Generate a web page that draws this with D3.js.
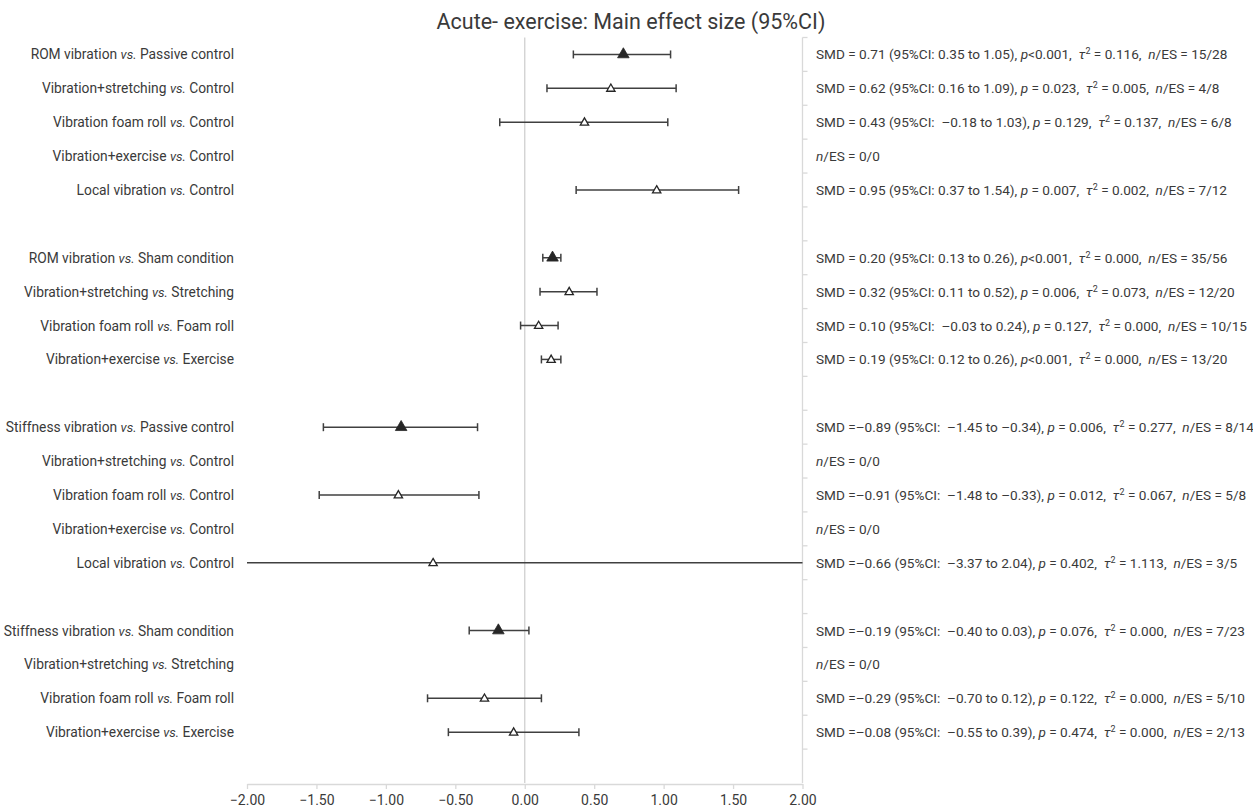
<!DOCTYPE html>
<html>
<head>
<meta charset="utf-8">
<script src="https://cdn.jsdelivr.net/npm/d3@7/dist/d3.min.js"></script>
<style>
  html, body { margin: 0; padding: 0; background: #fff; }
  svg { display: block; }
  text { font-family: Roboto, "Noto Sans", sans-serif; fill: #3a3a3a; white-space: pre; }
</style>
</head>
<body>
<svg id="chart" width="1253" height="809"></svg>
<script>
// Comparisons, in display order (four blocks, a blank row after each)
const groupSizes = [5, 4, 5, 4];
const interventions = [
  "ROM vibration", "Vibration+stretching", "Vibration foam roll", "Vibration+exercise", "Local vibration",
  "ROM vibration", "Vibration+stretching", "Vibration foam roll", "Vibration+exercise",
  "Stiffness vibration", "Vibration+stretching", "Vibration foam roll", "Vibration+exercise", "Local vibration",
  "Stiffness vibration", "Vibration+stretching", "Vibration foam roll", "Vibration+exercise"
];
const comparators = [
  "Passive control", "Control", "Control", "Control", "Control",
  "Sham condition", "Stretching", "Foam roll", "Exercise",
  "Passive control", "Control", "Control", "Control", "Control",
  "Sham condition", "Stretching", "Foam roll", "Exercise"
];
// Pooled (main) estimates are drawn as filled triangles
const pooled = [1,0,0,0,0, 1,0,0,0, 1,0,0,0,0, 1,0,0,0];
// Standardised mean differences with 95% CI (null = no effect sizes)
const smd   = [0.71, 0.62, 0.43, null, 0.95,  0.20, 0.32, 0.10, 0.19,  -0.89, null, -0.91, null, -0.66,  -0.19, null, -0.29, -0.08];
const lower = [0.35, 0.16, -0.18, null, 0.37, 0.13, 0.11, -0.03, 0.12, -1.45, null, -1.48, null, -3.37, -0.40, null, -0.70, -0.55];
const upper = [1.05, 1.09, 1.03, null, 1.54,  0.26, 0.52, 0.24, 0.26,  -0.34, null, -0.33, null, 2.04,   0.03, null, 0.12, 0.39];
const pText = ["<0.001", "0.023", "0.129", null, "0.007", "<0.001", "0.006", "0.127", "<0.001",
               "0.006", null, "0.012", null, "0.402", "0.076", null, "0.122", "0.474"];
const tau2  = [0.116, 0.005, 0.137, null, 0.002, 0.000, 0.073, 0.000, 0.000,
               0.277, null, 0.067, null, 1.113, 0.000, null, 0.000, 0.000];
const nES   = ["15/28", "4/8", "6/8", "0/0", "7/12", "35/56", "12/20", "10/15", "13/20",
               "8/14", "0/0", "5/8", "0/0", "3/5", "7/23", "0/0", "5/10", "2/13"];
const xTicks = [-2, -1.5, -1, -0.5, 0, 0.5, 1, 1.5, 2];
const title = "Acute- exercise: Main effect size (95%CI)";

// Assign each comparison to a row slot, leaving a blank slot after every block
const rows = [];
let slot = 0, k = 0;
groupSizes.forEach(n => {
  for (let j = 0; j < n; j++, k++) {
    rows.push({
      slot: slot++, intervention: interventions[k], comparator: comparators[k],
      pooled: !!pooled[k], smd: smd[k], lo: lower[k], hi: upper[k],
      p: pText[k], tau2: tau2[k], nES: nES[k]
    });
  }
  slot++;
});
const nSlots = slot;

const svg = d3.select("#chart");
const plot = { left: 247, right: 802.5, top: 37.5, bottom: 783 };

const x = d3.scaleLinear().domain([-2, 2]).range([plot.left, plot.right]);
const y = d3.scaleBand().domain(d3.range(nSlots)).range([plot.top, plot.bottom]);
const cy = i => y(i) + y.bandwidth() / 2;

const axisColor = "#d9d9d9";
const barColor = "#404040";

// Title
svg.append("text")
  .attr("x", 631).attr("y", 29)
  .attr("text-anchor", "middle")
  .style("font-size", "21.5px")
  .text(title);

// Zero reference line
svg.append("line")
  .attr("x1", x(0)).attr("x2", x(0))
  .attr("y1", plot.top).attr("y2", plot.bottom)
  .attr("stroke", "#d0d0d0").attr("stroke-width", 1.3);

// Bottom value axis
const xAxis = svg.append("g")
  .attr("transform", `translate(0,${plot.bottom + 1})`)
  .call(d3.axisBottom(x).tickValues(xTicks).tickFormat(d3.format(".2f")).tickSize(5).tickSizeOuter(0));
xAxis.select(".domain").attr("stroke", axisColor).attr("stroke-width", 1.3);
xAxis.selectAll(".tick line").attr("stroke", axisColor).attr("stroke-width", 1.3);
xAxis.selectAll(".tick text")
  .attr("y", 11)
  .style("font-size", "14px").style("font-family", "Roboto, 'Noto Sans', sans-serif")
  .attr("fill", "#3a3a3a");

// Right-hand category axis with ticks between rows
const yEdges = d3.range(nSlots + 1).map(i => plot.top + i * y.step());
svg.append("line")
  .attr("x1", plot.right).attr("x2", plot.right)
  .attr("y1", plot.top).attr("y2", plot.bottom)
  .attr("stroke", axisColor).attr("stroke-width", 1.3);
svg.append("g").selectAll("line").data(yEdges.slice(0, -1)).join("line")
  .attr("x1", plot.right).attr("x2", plot.right + 5)
  .attr("y1", d => d).attr("y2", d => d)
  .attr("stroke", axisColor).attr("stroke-width", 1.3);

// Confidence intervals (clipped to the axis range)
const withES = rows.filter(r => r.smd !== null);
const bars = svg.append("g").attr("stroke", barColor).attr("stroke-width", 1.5);
const clip = v => Math.max(-2, Math.min(2, v));
bars.selectAll("line.ci").data(withES).join("line").attr("class", "ci")
  .attr("x1", d => x(clip(d.lo))).attr("x2", d => x(clip(d.hi)))
  .attr("y1", d => cy(d.slot)).attr("y2", d => cy(d.slot));
const caps = [];
withES.forEach(d => {
  if (d.lo >= -2) caps.push({ v: d.lo, slot: d.slot });
  if (d.hi <= 2) caps.push({ v: d.hi, slot: d.slot });
});
bars.selectAll("line.cap").data(caps).join("line").attr("class", "cap")
  .attr("x1", d => x(d.v)).attr("x2", d => x(d.v))
  .attr("y1", d => cy(d.slot) - 4).attr("y2", d => cy(d.slot) + 4);

// Point estimates
svg.append("g").selectAll("path").data(withES).join("path")
  .attr("transform", d => `translate(${x(d.smd)},${cy(d.slot) + (d.pooled ? 0 : 0.5)})`)
  .attr("d", d => d3.symbol(d3.symbolTriangle, d.pooled ? 58 : 30)())
  .attr("fill", d => d.pooled ? "#262626" : "#fff")
  .attr("stroke", "#262626")
  .attr("stroke-width", d => d.pooled ? 0.8 : 1.3);

// Left labels: "<intervention> vs. <comparator>"
const left = svg.append("g").selectAll("text").data(rows).join("text")
  .attr("x", 234).attr("y", d => cy(d.slot) + 5)
  .attr("text-anchor", "end")
  .style("font-size", "13.8px");
left.append("tspan").text(d => d.intervention + " ");
left.append("tspan").style("font-style", "italic").style("font-size", "13px").text("vs.");
left.append("tspan").text(d => " " + d.comparator);

// Right labels: summary statistics
const num = v => (v < 0 ? "\u2013" : "") + Math.abs(v).toFixed(2);
const right = svg.append("g").selectAll("text").data(rows).join("text")
  .attr("x", 816).attr("y", d => cy(d.slot) + 5)
  .style("font-size", "13.6px");
right.each(function(d) {
  const t = d3.select(this);
  if (d.smd !== null) {
    const eq = d.smd < 0 ? "SMD =" : "SMD = ";
    const ciSep = d.lo < 0 ? "95%CI:  " : "95%CI: ";
    t.append("tspan").text(`${eq}${num(d.smd)} (${ciSep}${num(d.lo)} to ${num(d.hi)}), `);
    t.append("tspan").style("font-style", "italic").text("p");
    t.append("tspan").text(d.p.startsWith("<") ? `${d.p},  ` : ` = ${d.p},  `);
    t.append("tspan").style("font-style", "italic").text("\u03c4");
    t.append("tspan").attr("dy", -5).style("font-size", "9px").text("2");
    t.append("tspan").attr("dy", 5).text(` = ${d.tau2.toFixed(3)},  `);
  }
  t.append("tspan").style("font-style", "italic").text("n");
  t.append("tspan").text(`/ES = ${d.nES}`);
});
</script>
</body>
</html>
